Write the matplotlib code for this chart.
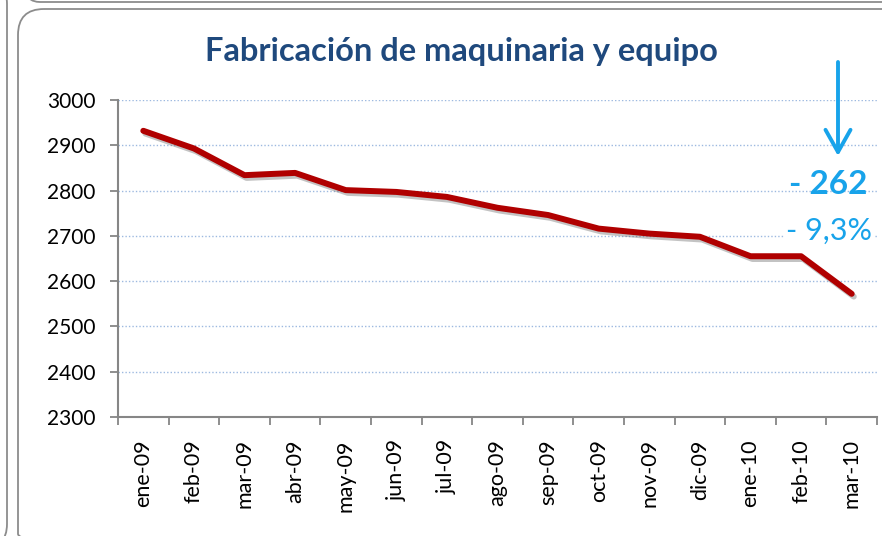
import numpy as np
import matplotlib
matplotlib.use("Agg")
import matplotlib.pyplot as plt
import matplotlib.patheffects as pe
from matplotlib.patches import FancyBboxPatch

plt.rcParams['font.family'] = ['Lato', 'DejaVu Sans']

months = ['ene-09', 'feb-09', 'mar-09', 'abr-09', 'may-09', 'jun-09', 'jul-09', 'ago-09',
          'sep-09', 'oct-09', 'nov-09', 'dic-09', 'ene-10', 'feb-10', 'mar-10']
values = [2932, 2893, 2834, 2839, 2801, 2797, 2786, 2762,
          2746, 2716, 2705, 2698, 2655, 2655, 2572]
yticks = [2300, 2400, 2500, 2600, 2700, 2800, 2900, 3000]
title = "Fabricación de maquinaria y equipo"
diff_label = "- 262"
pct_label = "- 9,3%"

W, H = 882, 536
fig = plt.figure(figsize=(W / 100, H / 100), dpi=100)

# background panel frames (pixel coords)
bg = fig.add_axes([0, 0, 1, 1], zorder=-1)
bg.set_xlim(0, W)
bg.set_ylim(H, 0)
bg.axis('off')
frame_col = '#8c8c8c'
for x0, y0, x1, y1, r in [(18, 9, 930, 560, 26), (-300, -20, 7, 548, 24), (26, -300, 930, 2, 14)]:
    bg.add_patch(FancyBboxPatch((x0, y0), x1 - x0, y1 - y0,
                                boxstyle=f"round,pad=0,rounding_size={r}",
                                fc='none', ec=frame_col, lw=1.3))

ax = fig.add_axes([118 / W, 1 - 417 / H, (877 - 118) / W, (417 - 100) / H])
ax.patch.set_alpha(0)

x = np.arange(len(months))
ax.plot(x, values, color='#B00000', lw=4.3, solid_capstyle='round', solid_joinstyle='round',
        path_effects=[pe.SimpleLineShadow(offset=(1.5, -2), shadow_color='#555555', alpha=0.35),
                      pe.Normal()], zorder=3)

ax.set_xlim(-0.5, len(months) - 0.5)
ax.set_ylim(yticks[0], yticks[-1])
ax.set_yticks(yticks)
ax.set_xticks(np.arange(-0.5, len(months), 1.0))
ax.set_xticklabels([])
ax.set_xticks(x, minor=True)
ax.set_xticklabels(months, minor=True, rotation=90, fontsize=15.5, va='top', ha='center')
ax.tick_params(axis='x', which='major', direction='out', length=6, width=1.3, color='#868686')
ax.tick_params(axis='x', which='minor', length=0, pad=16)
ax.tick_params(axis='y', direction='out', length=6, width=1.3, color='#868686', labelsize=15, pad=10)

ax.grid(axis='y', color='#9db9e0', linestyle=(0, (1, 1.5)), lw=1)
ax.set_axisbelow(True)
for s in ['top', 'right']:
    ax.spines[s].set_visible(False)
for s in ['left', 'bottom']:
    ax.spines[s].set_color('#868686')
    ax.spines[s].set_linewidth(1.5)

fig.text(461 / W, 1 - 51 / H, title, ha='center', va='center', fontsize=23.5,
         fontweight='bold', color='#1F497D')

blue = '#18A3EA'
ax.annotate('', xy=(838, H - 156), xycoords='figure pixels',
            xytext=(838, H - 62), textcoords='figure pixels',
            arrowprops=dict(arrowstyle='->,head_length=0.8,head_width=0.45',
                            color=blue, lw=2.8, mutation_scale=20, shrinkA=0, shrinkB=0))
fig.text(828 / W, 1 - 184 / H, diff_label, ha='center', va='center', fontsize=24,
         fontweight='bold', color=blue)
fig.text(829 / W, 1 - 231 / H, pct_label, ha='center', va='center', fontsize=22,
         color=blue, bbox=dict(fc='white', ec='none', pad=1))

fig.savefig('out.png', dpi=100)
